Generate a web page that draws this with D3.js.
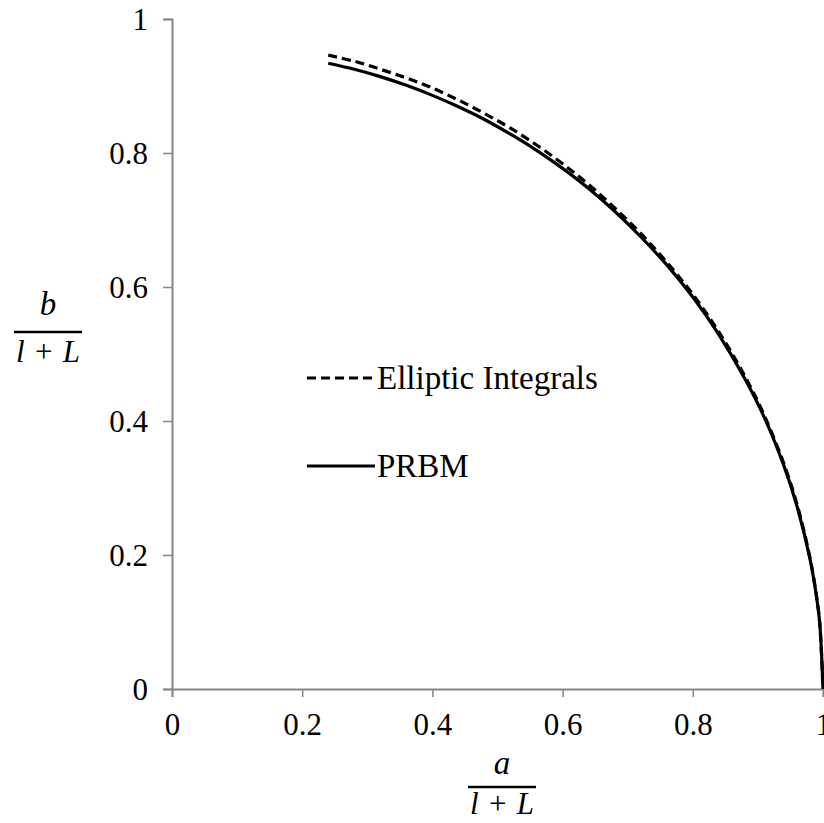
<!DOCTYPE html>
<html>
<head>
<meta charset="utf-8">
<script src="https://cdn.jsdelivr.net/npm/d3@7"></script>
<style>
  html, body { margin: 0; padding: 0; background: #fff; }
  svg { display: block; }
  text { font-family: "Liberation Serif", "Times New Roman", serif; }
</style>
</head>
<body>
<svg id="chart" width="824" height="823"></svg>
<script>
// ---- data ----
const xTicks = [0, 0.2, 0.4, 0.6, 0.8, 1];
const yTicks = [0, 0.2, 0.4, 0.6, 0.8, 1];
const xTickLabels = ["0", "0.2", "0.4", "0.6", "0.8", "1"];
const yTickLabels = ["0", "0.2", "0.4", "0.6", "0.8", "1"];

const ellipticX = [0.24, 0.28, 0.32, 0.36, 0.40, 0.44, 0.48, 0.52, 0.56, 0.60, 0.64, 0.68, 0.72, 0.76, 0.80, 0.84, 0.88, 0.91, 0.94, 0.96, 0.98, 0.99, 0.995, 1.0];
const ellipticY = [0.946, 0.937, 0.925, 0.912, 0.897, 0.879, 0.859, 0.837, 0.812, 0.784, 0.753, 0.718, 0.680, 0.637, 0.589, 0.533, 0.467, 0.408, 0.336, 0.276, 0.196, 0.139, 0.098, 0.0];

const prbmX = [0.24, 0.28, 0.32, 0.36, 0.40, 0.44, 0.48, 0.52, 0.56, 0.60, 0.64, 0.68, 0.72, 0.76, 0.80, 0.84, 0.88, 0.91, 0.94, 0.96, 0.98, 0.99, 0.995, 1.0];
const prbmY = [0.934, 0.925, 0.914, 0.901, 0.886, 0.869, 0.850, 0.828, 0.804, 0.777, 0.747, 0.713, 0.675, 0.633, 0.585, 0.529, 0.463, 0.405, 0.333, 0.273, 0.194, 0.138, 0.098, 0.0];

const seriesNames = ["Elliptic Integrals", "PRBM"];

// ---- layout ----
const svg = d3.select("#chart");
const mLeft = 172, mRight = 823, mTop = 19, mBottom = 689;
const axisColor = "#868686";
const tickFont = 31;
const legendFont = 33;

const x = d3.scaleLinear().domain([0, 1]).range([mLeft, mRight]);
const y = d3.scaleLinear().domain([0, 1]).range([mBottom, mTop]);

svg.append("rect").attr("width", 824).attr("height", 823).attr("fill", "#fff");

// axes
const xAxis = d3.axisBottom(x).tickValues(xTicks).tickSize(8).tickFormat((d, i) => xTickLabels[i]);
const yAxis = d3.axisLeft(y).tickValues(yTicks).tickSize(9).tickFormat((d, i) => yTickLabels[i]);

const gx = svg.append("g").attr("transform", `translate(0,${mBottom})`).call(xAxis);
const gy = svg.append("g").attr("transform", `translate(${mLeft},0)`).call(yAxis);

[gx, gy].forEach(g => {
  g.select(".domain").attr("stroke", axisColor).attr("stroke-width", 2);
  g.selectAll(".tick line").attr("stroke", axisColor).attr("stroke-width", 1.5);
  g.selectAll(".tick text")
    .attr("fill", "#000")
    .attr("font-family", "'Liberation Serif', serif")
    .attr("font-size", tickFont);
});
gx.selectAll(".tick text").attr("dy", null).attr("y", 46);
gy.selectAll(".tick text").attr("x", -24).attr("dy", "0.34em");

// curves
const line = d3.line().x(d => x(d[0])).y(d => y(d[1])).curve(d3.curveCatmullRom.alpha(0.5));
const ellipticData = ellipticX.map((v, i) => [v, ellipticY[i]]);
const prbmData = prbmX.map((v, i) => [v, prbmY[i]]);

svg.append("path").datum(prbmData)
  .attr("d", line).attr("fill", "none").attr("stroke", "#000").attr("stroke-width", 3.2);
svg.append("path").datum(ellipticData)
  .attr("d", line).attr("fill", "none").attr("stroke", "#000").attr("stroke-width", 3.2)
  .attr("stroke-dasharray", "9,5");

// legend
const legend = [
  { name: seriesNames[0], dash: "9,5", yy: 378 },
  { name: seriesNames[1], dash: null, yy: 466 }
];
legend.forEach(l => {
  svg.append("line").attr("x1", 307).attr("x2", 375).attr("y1", l.yy).attr("y2", l.yy)
    .attr("stroke", "#000").attr("stroke-width", 3.2)
    .attr("stroke-dasharray", l.dash);
  svg.append("text").attr("x", 377).attr("y", l.yy).attr("dy", "0.34em")
    .attr("font-size", legendFont).attr("fill", "#000").text(l.name);
});

// axis titles as fractions
function fraction(cx, numY, barY, denY, numText) {
  const g = svg.append("g");
  g.append("text").attr("x", cx).attr("y", numY).attr("text-anchor", "middle")
    .attr("font-size", 33).attr("font-style", "italic").text(numText);
  g.append("line").attr("x1", cx - 34).attr("x2", cx + 34).attr("y1", barY).attr("y2", barY)
    .attr("stroke", "#000").attr("stroke-width", 2.5);
  const t = g.append("text").attr("x", cx).attr("y", denY).attr("text-anchor", "middle")
    .attr("font-size", 31);
  t.append("tspan").attr("font-style", "italic").text("l");
  t.append("tspan").text("\u2004+\u2004");
  t.append("tspan").attr("font-style", "italic").text("L");
}
fraction(48, 315, 332, 362, "b");
fraction(502, 774, 787, 814, "a");
</script>
</body>
</html>
